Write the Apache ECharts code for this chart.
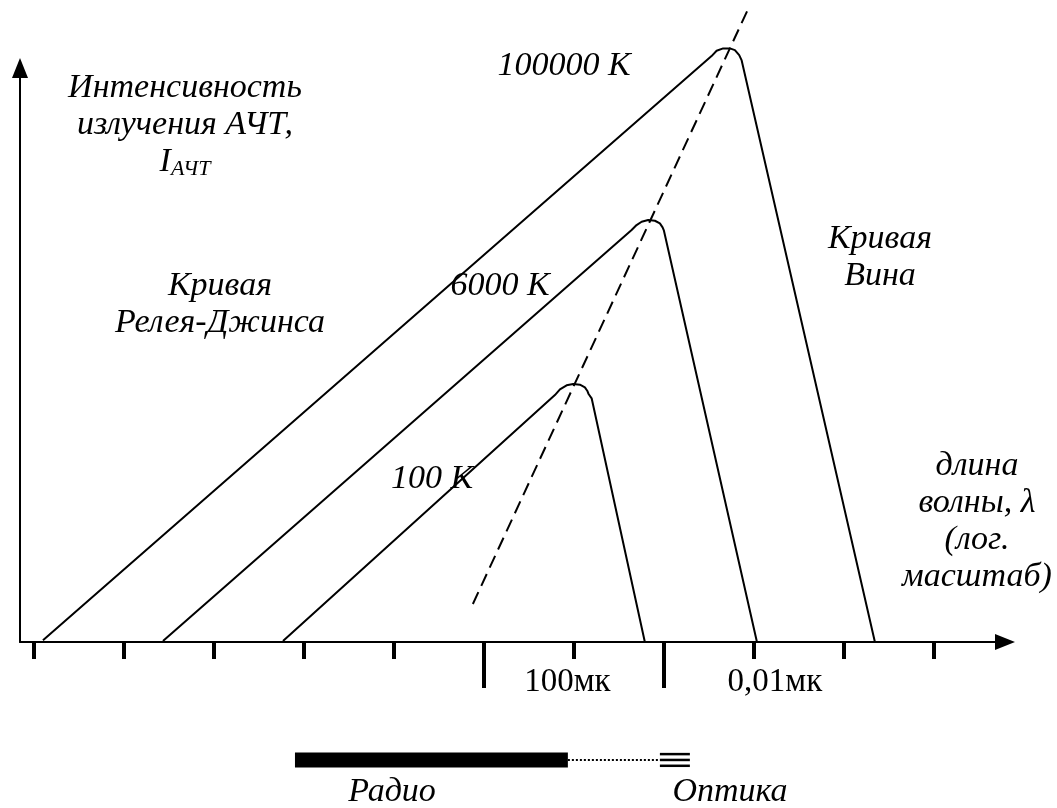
<!DOCTYPE html>
<html>
<head>
<meta charset="UTF-8">
<title>Излучение АЧТ</title>
<script src="https://cdn.jsdelivr.net/npm/echarts@6/dist/echarts.min.js"></script>
<style>
  html, body { margin: 0; padding: 0; background: #fff; }
  #main { width: 1057px; height: 808px; }
</style>
</head>
<body>
<div id="main"></div>
<script>
// ось X - длина волны в условных декадах (лог. масштаб), ось Y - интенсивность, усл. ед.
var tickValues = [0, 1, 2, 3, 4, 5, 6, 7, 8, 9, 10];
var longTicks = [5, 7];
var tickLabelValues = [5.93, 8.234];
var tickLabelTexts = ['100мк', '0,01мк'];

// кривые АЧТ: [lg λ, I]
var curve100000 = [[0.105, 0.3], [7.531, 100.34], [7.587, 101.25], [7.66, 101.66], [7.735, 101.66],
  [7.79, 101.37], [7.838, 100.51], [7.864, 99.66], [9.345, 0]];
var curve6000 = [[1.438, 0.17], [6.643, 70.55], [6.698, 71.4], [6.754, 71.97], [6.827, 72.26],
  [6.902, 72.14], [6.957, 71.7], [6.987, 71.01], [7.002, 70.43], [8.035, 0]];
var curve100 = [[2.771, 0.17], [5.791, 42.29], [5.847, 43.27], [5.921, 43.96], [5.994, 44.18],
  [6.069, 44.06], [6.124, 43.61], [6.15, 43.03], [6.165, 42.47], [6.199, 41.73], [6.79, 0]];
// закон смещения Вина
var wienLine = [[4.88, 6.51], [7.957, 109.08]];

// диапазоны: радио, промежуток, оптика
var radioRange = [2.904, 5.935];
var gapRange = [5.935, 6.957];
var opticRange = [6.957, 7.29];
var bandLevel = -20.2;
var opticLevels = [-19.2, -20.2, -21.2];

var chart = echarts.init(document.getElementById('main'));

var serif = '"Liberation Serif", "Times New Roman", serif';

function curveSeries(data) {
  return {
    type: 'line', data: data, symbol: 'none', clip: false, silent: true,
    lineStyle: { color: '#000', width: 2 }
  };
}

function band(range, level, width, type) {
  return {
    type: 'line', data: [[range[0], level], [range[1], level]], symbol: 'none', clip: false, silent: true,
    lineStyle: { color: '#000', width: width, type: type || 'solid', cap: 'butt' }
  };
}

var series = [
  curveSeries(curve100000),
  curveSeries(curve6000),
  curveSeries(curve100),
  {
    type: 'line', data: wienLine, symbol: 'none', clip: false, silent: true,
    lineStyle: { color: '#000', width: 2, type: [13, 7] }
  },
  band(radioRange, bandLevel, 15),
  band(gapRange, bandLevel, 2, [2, 2])
];
opticLevels.forEach(function (lv) {
  series.push(band(opticRange, lv, 2.5));
});

function note(x, y, text, extra) {
  var st = {
    text: text, fill: '#000', fontFamily: serif, fontStyle: 'italic', fontSize: 34,
    lineHeight: 37, align: 'center', verticalAlign: 'middle'
  };
  if (extra) for (var k in extra) st[k] = extra[k];
  return { type: 'text', x: x, y: y, silent: true, style: st };
}

var option = {
  backgroundColor: '#fff',
  animation: false,
  grid: { left: 20, right: 52, top: 68, bottom: 166 },
  xAxis: [
    {
      type: 'value', min: -0.15, max: 10.79, position: 'bottom',
      axisLine: { show: true, symbol: ['none', 'triangle'], symbolSize: [16, 20], lineStyle: { color: '#000', width: 2 } },
      axisTick: { show: true, customValues: tickValues, length: 17, lineStyle: { color: '#000', width: 4 } },
      axisLabel: { show: false },
      splitLine: { show: false }
    },
    {
      type: 'value', min: -0.15, max: 10.79, position: 'bottom',
      axisLine: { show: false },
      axisTick: { show: true, customValues: longTicks, length: 46, lineStyle: { color: '#000', width: 4 } },
      axisLabel: {
        show: true, customValues: tickLabelValues, margin: 24,
        color: '#000', fontFamily: serif, fontSize: 33,
        formatter: function (v) {
          var i = tickLabelValues.indexOf(v);
          return i >= 0 ? tickLabelTexts[i] : '';
        }
      },
      splitLine: { show: false }
    }
  ],
  yAxis: {
    type: 'value', min: 0, max: 98.3,
    axisLine: { show: true, onZero: false, symbol: ['none', 'triangle'], symbolSize: [16, 20], lineStyle: { color: '#000', width: 2 } },
    axisTick: { show: false },
    axisLabel: { show: false },
    splitLine: { show: false }
  },
  series: series,
  graphic: [
    note(564, 66, '100000 К'),
    note(185, 125, '{a|Интенсивность}\n{a|излучения АЧТ,}\n{a|I}{b|АЧТ}', {
      rich: {
        a: { fontFamily: serif, fontStyle: 'italic', fontSize: 34, lineHeight: 37, fill: '#000' },
        b: { fontFamily: serif, fontStyle: 'italic', fontSize: 22, lineHeight: 37, fill: '#000', padding: [14, 0, 0, 0] }
      }
    }),
    note(220, 305, 'Кривая\nРелея-Джинса'),
    note(500, 286, '6000 К'),
    note(880, 258, 'Кривая\nВина'),
    note(432, 479, '100 К'),
    note(977, 522, 'длина\nволны, λ\n(лог.\nмасштаб)'),
    note(392, 792, 'Радио'),
    note(730, 792, 'Оптика')
  ]
};

chart.setOption(option);
</script>
</body>
</html>
